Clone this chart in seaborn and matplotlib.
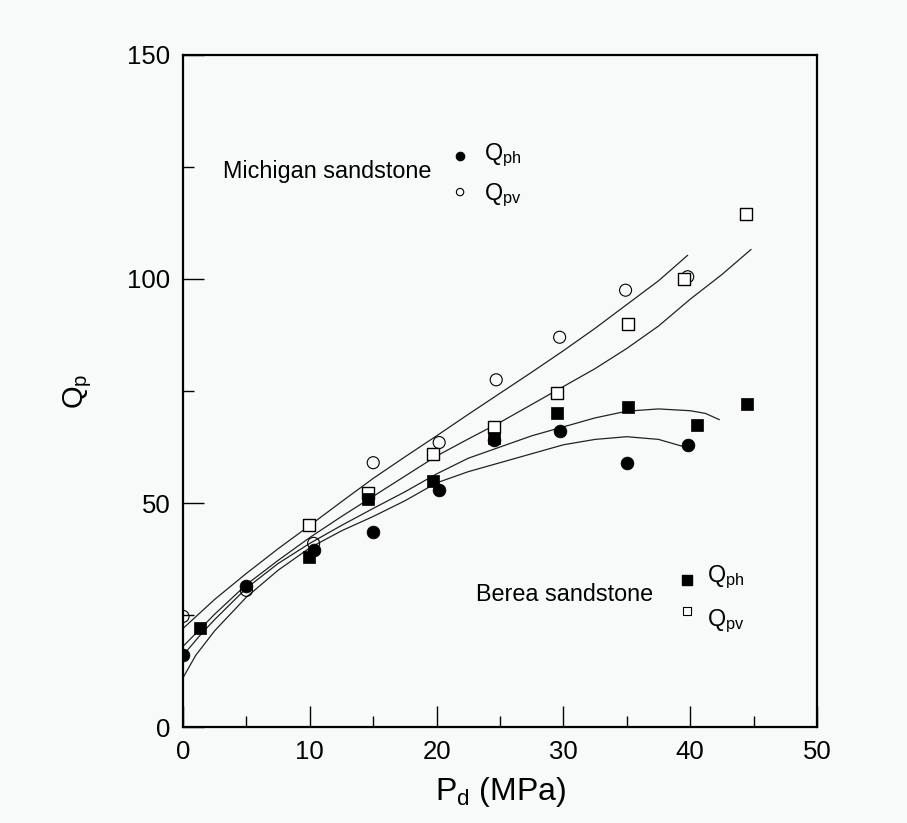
import matplotlib
matplotlib.use("Agg")
import matplotlib.pyplot as plt
import seaborn as sns
import pandas as pd

# ---- data ----
mich_ph_x = [0.0, 5.0, 10.3, 15.0, 20.2, 24.5, 29.7, 35.0, 39.8]
mich_ph_y = [16.0, 31.5, 39.5, 43.5, 53.0, 64.0, 66.0, 59.0, 63.0]

mich_pv_x = [0.0, 5.0, 10.3, 15.0, 20.2, 24.7, 29.7, 34.9, 39.8]
mich_pv_y = [24.7, 30.5, 41.0, 59.0, 63.5, 77.5, 87.0, 97.5, 100.5]

berea_ph_x = [1.3, 9.9, 14.6, 19.7, 24.5, 29.5, 35.1, 40.5, 44.5]
berea_ph_y = [22.0, 38.0, 51.0, 55.0, 64.5, 70.0, 71.5, 67.5, 72.0]

berea_pv_x = [9.9, 14.6, 19.7, 24.5, 29.5, 35.1, 39.5, 44.4]
berea_pv_y = [45.0, 52.3, 61.0, 67.0, 74.5, 90.0, 100.0, 114.5]

# fitted curves as drawn in the reference
fit_mich_pv_x = [0, 2.5, 5, 7.5, 10, 12.5, 15, 17.5, 20, 22.5, 25, 27.5, 30, 32.5, 35, 37.5, 39.8]
fit_mich_pv_y = [22, 28.5, 34.3, 39.8, 45, 50.3, 55.5, 60.3, 65, 69.8, 74.5, 79.2, 84, 89, 94.3, 99.6, 105.3]

fit_berea_pv_x = [0, 1.5, 2.5, 5, 7.5, 10, 12.5, 15, 17.5, 20, 22.5, 25, 27.5, 30, 32.5, 35, 37.5, 40, 42.5, 44.8]
fit_berea_pv_y = [18, 22.3, 25.2, 31.8, 37.2, 42.3, 47, 51.5, 56, 60.5, 64.3, 68, 72, 76, 80, 84.5, 89.5, 95.5, 101, 106.6]

fit_berea_ph_x = [0, 1.5, 2.5, 5, 7.5, 10, 12.5, 15, 17.5, 20, 22.5, 25, 27.5, 30, 32.5, 35, 37.5, 40, 41.2, 42.3]
fit_berea_ph_y = [16, 21, 24, 31, 36.5, 41, 45, 48.8, 52.5, 56.5, 60, 62.5, 65, 67, 69, 70.5, 71, 70.6, 70, 68.6]

fit_mich_ph_x = [0, 1, 2.5, 5, 7.5, 10, 12.5, 15, 17.5, 20, 22.5, 25, 27.5, 30, 32.5, 35, 37.5, 39.7]
fit_mich_ph_y = [11, 16, 21.5, 29, 35, 40, 43.8, 47, 50.5, 54.5, 57, 59, 61, 63, 64.2, 64.8, 64.2, 62.4]

x_ticks = [0, 10, 20, 30, 40, 50]
y_ticks = [0, 50, 100, 150]

# ---- style ----
sns.set_style("ticks")
plt.rcParams['font.family'] = ['Liberation Sans', 'DejaVu Sans']
plt.rcParams['mathtext.default'] = 'regular'
for k in ['text.color', 'axes.labelcolor', 'xtick.color', 'ytick.color', 'axes.edgecolor']:
    plt.rcParams[k] = 'black'

bg = '#f7faf8'
fig = plt.figure(figsize=(9.07, 8.23), dpi=100, facecolor=bg)
ax = fig.add_axes([0.2018, 0.1166, 0.699, 0.8166])
ax.set_facecolor(bg)

# curves
for fx, fy in [(fit_mich_pv_x, fit_mich_pv_y), (fit_berea_pv_x, fit_berea_pv_y),
               (fit_berea_ph_x, fit_berea_ph_y), (fit_mich_ph_x, fit_mich_ph_y)]:
    sns.lineplot(x=fx, y=fy, ax=ax, color='#222222', lw=0.9, sort=False, estimator=None)

# points
sns.scatterplot(x=mich_pv_x, y=mich_pv_y, ax=ax, marker='o', s=75, facecolor='none',
                edgecolor='black', linewidth=0.8, zorder=3)
sns.scatterplot(x=berea_pv_x, y=berea_pv_y, ax=ax, marker='s', s=85, facecolor='white',
                edgecolor='black', linewidth=1.0, zorder=3)
sns.scatterplot(x=berea_ph_x, y=berea_ph_y, ax=ax, marker='s', s=85, color='black',
                edgecolor='black', linewidth=0.5, zorder=4)
sns.scatterplot(x=mich_ph_x, y=mich_ph_y, ax=ax, marker='o', s=85, color='black',
                edgecolor='black', linewidth=0.5, zorder=4)

# annotations / legends
fs = 16.8
ax.text(3.15, 123.9, 'Michigan sandstone', fontsize=fs, va='center', ha='left')
ax.scatter([21.85], [127.4], s=35, color='black', zorder=5)
ax.scatter([21.85], [119.4], s=28, facecolor='none', edgecolor='black', linewidth=0.8, zorder=5)
ax.text(23.7, 127.6, 'Q$_{ph}$', fontsize=fs, va='center', ha='left')
ax.text(23.7, 118.6, 'Q$_{pv}$', fontsize=fs, va='center', ha='left')

ax.text(23.1, 29.5, 'Berea sandstone', fontsize=fs, va='center', ha='left')
ax.scatter([39.75], [32.9], s=45, marker='s', color='black', zorder=5)
ax.scatter([39.75], [25.9], s=40, marker='s', facecolor='white', edgecolor='black', linewidth=0.8, zorder=5)
ax.text(41.3, 33.4, 'Q$_{ph}$', fontsize=fs, va='center', ha='left')
ax.text(41.3, 23.6, 'Q$_{pv}$', fontsize=fs, va='center', ha='left')

# axes
ax.set_xlim(0, 50)
ax.set_ylim(0, 150)
ax.set_xticks(x_ticks)
ax.set_yticks(y_ticks)
ax.set_xticks([5, 15, 25, 35, 45], minor=True)
ax.set_yticks([25, 75, 125], minor=True)
ax.tick_params(which='major', direction='in', length=15, width=1.0, labelsize=18.5, pad=9)
ax.tick_params(which='minor', direction='in', length=8, width=1.0)
for sp in ax.spines.values():
    sp.set_visible(True)
    sp.set_linewidth(1.6)
    sp.set_color('black')

ax.set_xlabel('P$_d$ (MPa)', fontsize=23, labelpad=8)
ax.set_ylabel('Q$_p$', fontsize=21, labelpad=24)

fig.savefig('out.png', dpi=100, facecolor=bg)
